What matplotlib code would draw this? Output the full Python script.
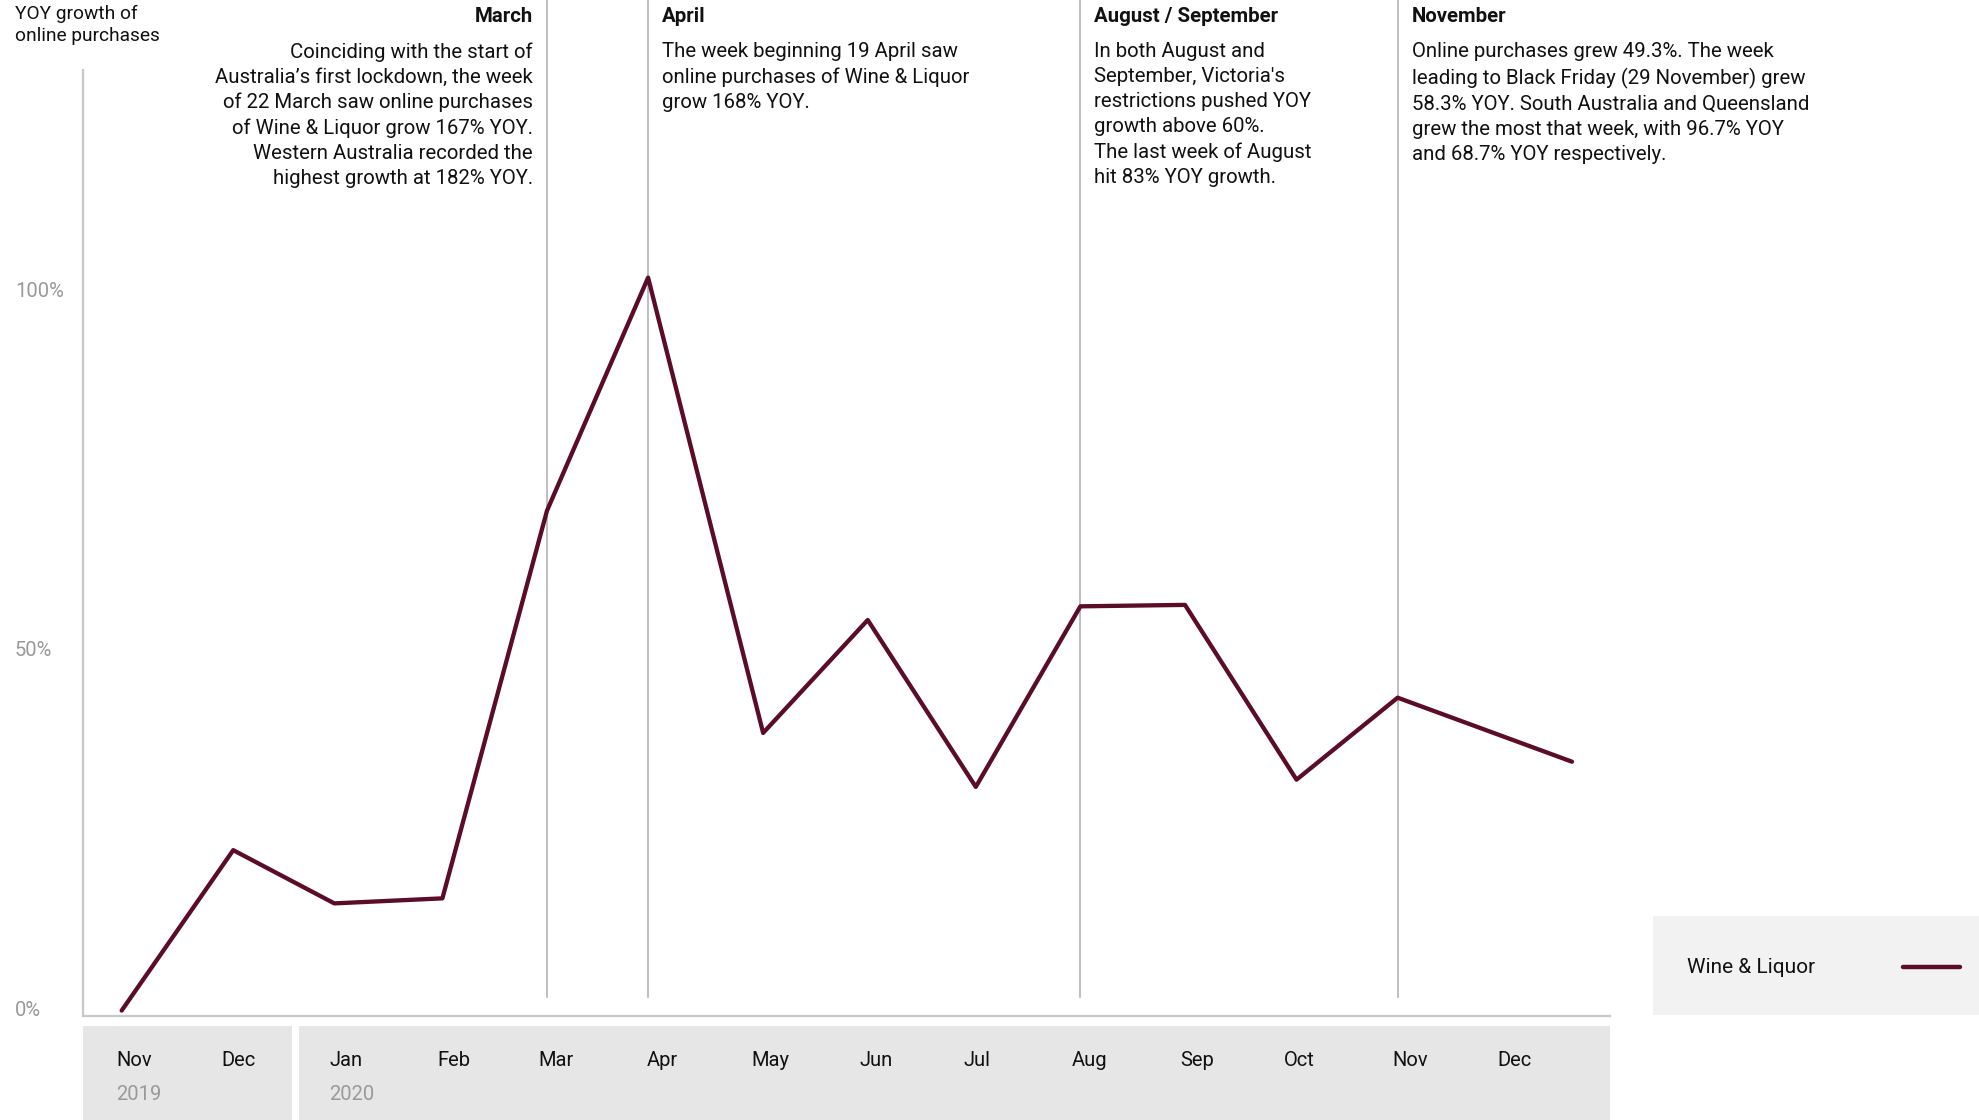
import matplotlib
matplotlib.use("Agg")
from matplotlib import pyplot as plt
from matplotlib import transforms
from matplotlib.patches import Rectangle
from matplotlib.lines import Line2D
import matplotlib.dates as mdates
import numpy as np

plt.rcParams['font.family'] = ['Roboto', 'DejaVu Sans']

# data
dates = ["2019-11-01", "2019-12-03", "2020-01-01", "2020-02-01", "2020-03-02",
         "2020-03-31", "2020-05-03", "2020-06-02", "2020-07-03", "2020-08-02",
         "2020-09-01", "2020-10-03", "2020-11-01", "2020-12-21"]
growth = [-0.3, 22.0, 14.6, 15.3, 69.2, 101.6, 38.3, 54.0, 30.8, 55.9,
          56.1, 31.8, 43.2, 34.3]

month_labels = ["Nov", "Dec", "Jan", "Feb", "Mar", "Apr", "May", "Jun",
                "Jul", "Aug", "Sep", "Oct", "Nov", "Dec"]
month_dates = ["2019-11-01", "2019-12-01", "2020-01-01", "2020-02-01", "2020-03-01",
               "2020-04-01", "2020-05-01", "2020-06-01", "2020-07-01", "2020-08-01",
               "2020-09-01", "2020-10-01", "2020-11-01", "2020-12-01"]
years = ["2019", "2020"]
year_dates = ["2019-11-01", "2020-01-01"]

yticks = [0, 50, 100]
ytick_labels = ["0%", "50%", "100%"]

events = [
    ("2020-03-02", "March", "Coinciding with the start of\nAustralia\u2019s first lockdown, the week\n"
     "of 22 March saw online purchases\nof Wine & Liquor grow 167% YOY.\n"
     "Western Australia recorded the\nhighest growth at 182% YOY.", "right"),
    ("2020-03-31", "April", "The week beginning 19 April saw\nonline purchases of Wine & Liquor\n"
     "grow 168% YOY.", "left"),
    ("2020-08-02", "August / September", "In both August and\nSeptember, Victoria's\n"
     "restrictions pushed YOY\ngrowth above 60%.\nThe last week of August\nhit 83% YOY growth.", "left"),
    ("2020-11-01", "November", "Online purchases grew 49.3%. The week\nleading to Black Friday (29 November) grew\n"
     "58.3% YOY. South Australia and Queensland\ngrew the most that week, with 96.7% YOY\n"
     "and 68.7% YOY respectively.", "left"),
]

line_color = "#5b0c28"
dt = lambda s: np.datetime64(s)

fig = plt.figure(figsize=(19.79, 11.2), dpi=100)
ax = fig.add_axes([0.0421, 0.0929, 0.7716, 0.9071])

ax.plot([dt(d) for d in dates], growth, color=line_color, lw=3.1,
        solid_capstyle="round", solid_joinstyle="round", zorder=3)

ax.set_xlim(dt("2019-10-21"), dt("2021-01-01"))
ax.set_ylim(-1.05, 140.2)

for s in ["top", "right"]:
    ax.spines[s].set_visible(False)
for s in ["left", "bottom"]:
    ax.spines[s].set_color("#c8c8c8")
    ax.spines[s].set_linewidth(1.6)
ax.spines["left"].set_bounds(-1.05, 130.4)

ax.set_xticks([])
ax.set_yticks(yticks)
ax.set_yticklabels(ytick_labels, color="#999999", fontsize=14.5)
ax.tick_params(axis="y", length=0, pad=0)
for lab in ax.get_yticklabels():
    lab.set_horizontalalignment("left")
    lab.set_x(-0.0421 / 0.7716 + 15 / 1979 / 0.7716)

# event lines and notes
for d, title, body, side in events:
    ax.axvline(dt(d), ymin=0.0187, ymax=1.0, color="#b4b4b4", lw=1.2, zorder=1)
    off = -14 if side == "right" else 14
    ax.annotate(title, xy=(dt(d), 1.0), xycoords=("data", "axes fraction"),
                xytext=(off, -17), textcoords="offset pixels", ha=side, va="center",
                fontsize=14.7, fontweight="bold", color="#111111")
    ax.annotate(body, xy=(dt(d), 1.0), xycoords=("data", "axes fraction"),
                xytext=(off, -42), textcoords="offset pixels", ha=side, va="top",
                fontsize=14.7, color="#111111", linespacing=1.4)

fig.text(15 / 1979, 1 - 5 / 1120, "YOY growth of\nonline purchases", ha="left", va="top",
         fontsize=13.8, color="#111111", linespacing=1.3)

# gray month band
band = transforms.blended_transform_factory(ax.transData, fig.transFigure)
for x0, x1 in [(dt("2019-10-21"), dt("2019-12-20")), (dt("2019-12-22"), dt("2021-01-01"))]:
    x0n, x1n = mdates.date2num(x0), mdates.date2num(x1)
    fig.patches.append(Rectangle((x0n, 0), x1n - x0n, 1 - 1026 / 1120, transform=band,
                                 facecolor="#e6e6e6", edgecolor="none"))

for d, lab in zip(month_dates, month_labels):
    fig.text(mdates.date2num(dt(d)) - 1.5, 1 - 1060 / 1120, lab, transform=band,
             ha="left", va="center", fontsize=14.5, color="#111111")
for d, lab in zip(year_dates, years):
    fig.text(mdates.date2num(dt(d)) - 1.5, 1 - 1094 / 1120, lab, transform=band,
             ha="left", va="center", fontsize=14.5, color="#999999")

# legend box
fig.patches.append(Rectangle((0.8353, 0.0938), 0.1647, 0.0884, transform=fig.transFigure,
                             facecolor="#f2f2f2", edgecolor="none"))
fig.text(0.8525, 0.1366, "Wine & Liquor", ha="left", va="center", fontsize=15, color="#111111")
fig.add_artist(Line2D([0.9616, 0.9905], [0.1366, 0.1366], transform=fig.transFigure,
                      color=line_color, lw=3.2, solid_capstyle="round"))

fig.savefig("out.png", dpi=100)
